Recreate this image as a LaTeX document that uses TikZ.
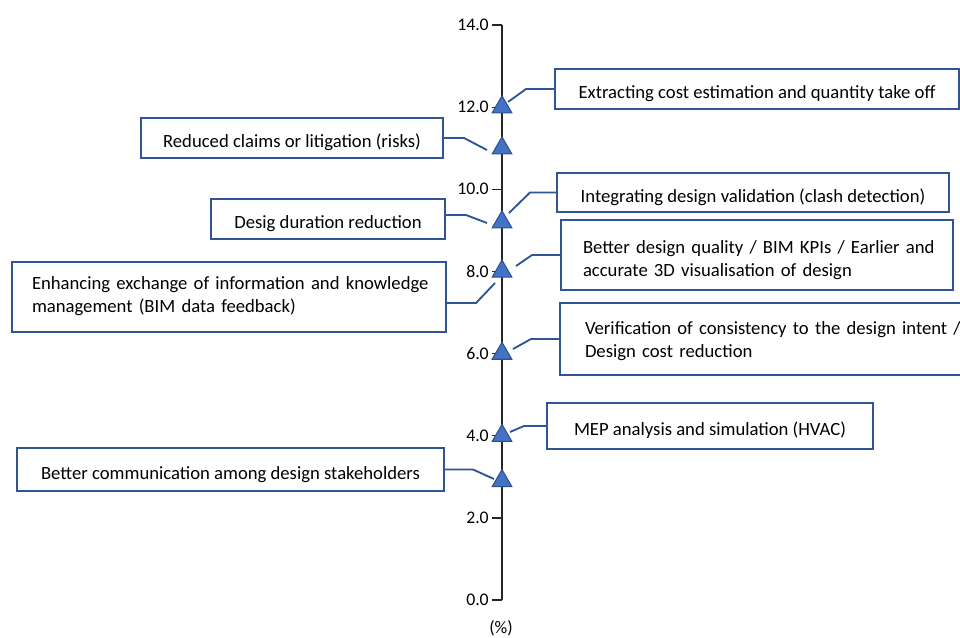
\documentclass[tikz,border=0pt]{standalone}
\usepackage{fontspec}
\setmainfont{Carlito}
\usetikzlibrary{shapes.geometric}
\definecolor{boxblue}{RGB}{47,85,151}
\definecolor{markfill}{RGB}{68,114,196}
\definecolor{markedge}{RGB}{47,82,143}
\definecolor{axisgray}{RGB}{38,38,38}
\tikzset{
  benefit/.style={draw=boxblue, line width=1.5pt, fill=white, rectangle,
    inner sep=0pt, font=\fontsize{14}{17.25}\selectfont, text=black,
    text height=14.5pt, text depth=0pt},
  widebox/.style={benefit, align=left, text height=14pt},
  marker/.style={regular polygon, regular polygon sides=3, draw=markedge,
    fill=markfill, line width=0.8pt, minimum size=17pt, inner sep=0pt},
  leader/.style={draw=boxblue, line width=1.4pt},
  ticklabel/.style={anchor=east, inner sep=0pt, font=\fontsize{13.3}{15}\selectfont, text=black},
  axisline/.style={draw=axisgray, line width=1pt}
}
\begin{document}
\begin{tikzpicture}[x=0.75pt, y=-0.75pt]
\useasboundingbox (0,0) rectangle (960,637);

% value axis: 41.07 px per percent, zero at y = 600
\draw[axisline] (502,25) -- (502,600);
\foreach \v in {0,2,...,14} {
  \draw[axisline] (492,{600-41.07*\v}) -- (502,{600-41.07*\v});
  \node[ticklabel] (t\v) at (489,{600-41.07*\v}) {\v.0};
}
\node[inner sep=0pt, font=\fontsize{13.3}{15}\selectfont] (unit) at (501,628) {(\%)};

% data markers
\node[marker] (m1) at (502,{600-41.07*12.0}) {};
\node[marker] (m2) at (502,{600-41.07*11.0}) {};
\node[marker] (m3) at (502,{600-41.07*9.2}) {};
\node[marker] (m4) at (502,{600-41.07*8.0}) {};
\node[marker] (m5) at (502,{600-41.07*6.0}) {};
\node[marker] (m6) at (502,{600-41.07*4.0}) {};
\node[marker] (m7) at (502,{600-41.07*2.9}) {};

% labels
\node[benefit, minimum width=303pt, minimum height=30pt] (b1) at (757,89)
  {Extracting cost estimation and quantity take off};
\node[benefit, minimum width=226.5pt, minimum height=30pt] (b2) at (292,138)
  {Reduced claims or litigation (risks)};
\node[benefit, minimum width=294pt, minimum height=29.25pt] (b3) at (753,192.5)
  {Integrating design validation (clash detection)};
\node[benefit, minimum width=175.5pt, minimum height=30pt] (b4) at (328,219)
  {Desig duration reduction};
\node[widebox, inner xsep=16.5pt, text width=261pt, text depth=17pt, minimum height=52.5pt] (b5) at (757,255)
  {\mbox{Better design quality / BIM KPIs / Earlier and}\\\mbox{accurate 3D visualisation of design}};
\node[widebox, inner xsep=15pt, text width=295.5pt, text depth=25pt, minimum height=52.5pt] (b6) at (229,297)
  {\mbox{Enhancing exchange of information and knowledge}\\\mbox{management (BIM data feedback)}};
\node[widebox, inner xsep=18.75pt, text width=264pt, text depth=21.5pt, minimum height=54pt] (b7) at (761,339)
  {\mbox{Verification of consistency to the design intent /}\\\mbox{Design cost reduction}};
\node[benefit, minimum width=244.5pt, minimum height=34.5pt] (b8) at (710,426)
  {MEP analysis and simulation (HVAC)};
\node[benefit, minimum width=320.25pt, minimum height=32.25pt] (b9) at (230.5,469.5)
  {Better communication among design stakeholders};

% leader lines
\coordinate (e1) at (508,102);
\coordinate (e2) at (487,150);
\coordinate (e3) at (509,213);
\coordinate (e4) at (487,223);
\coordinate (e5) at (516,266);
\coordinate (e6) at (495,283);
\coordinate (e7) at (513,349);
\coordinate (e8) at (510,432);
\coordinate (e9) at (494,479);
\draw[leader] (b1.west) -- (526,89) -- (e1);
\draw[leader] (b2.east) -- (464,138) -- (e2);
\draw[leader] (b3.west) -- (530,192.5) -- (e3);
\draw[leader] (b4.east) ++(0,-4) -- (466,215) -- (e4);
\draw[leader] (b5.west) -- (532,255) -- (e5);
\draw[leader] (b6.east) ++(0,6) -- (476,303) -- (e6);
\draw[leader] (b7.west) -- (531,339) -- (e7);
\draw[leader] (b8.west) -- (524,426) -- (e8);
\draw[leader] (b9.east) -- (473,469.5) -- (e9);
\end{tikzpicture}
\end{document}
